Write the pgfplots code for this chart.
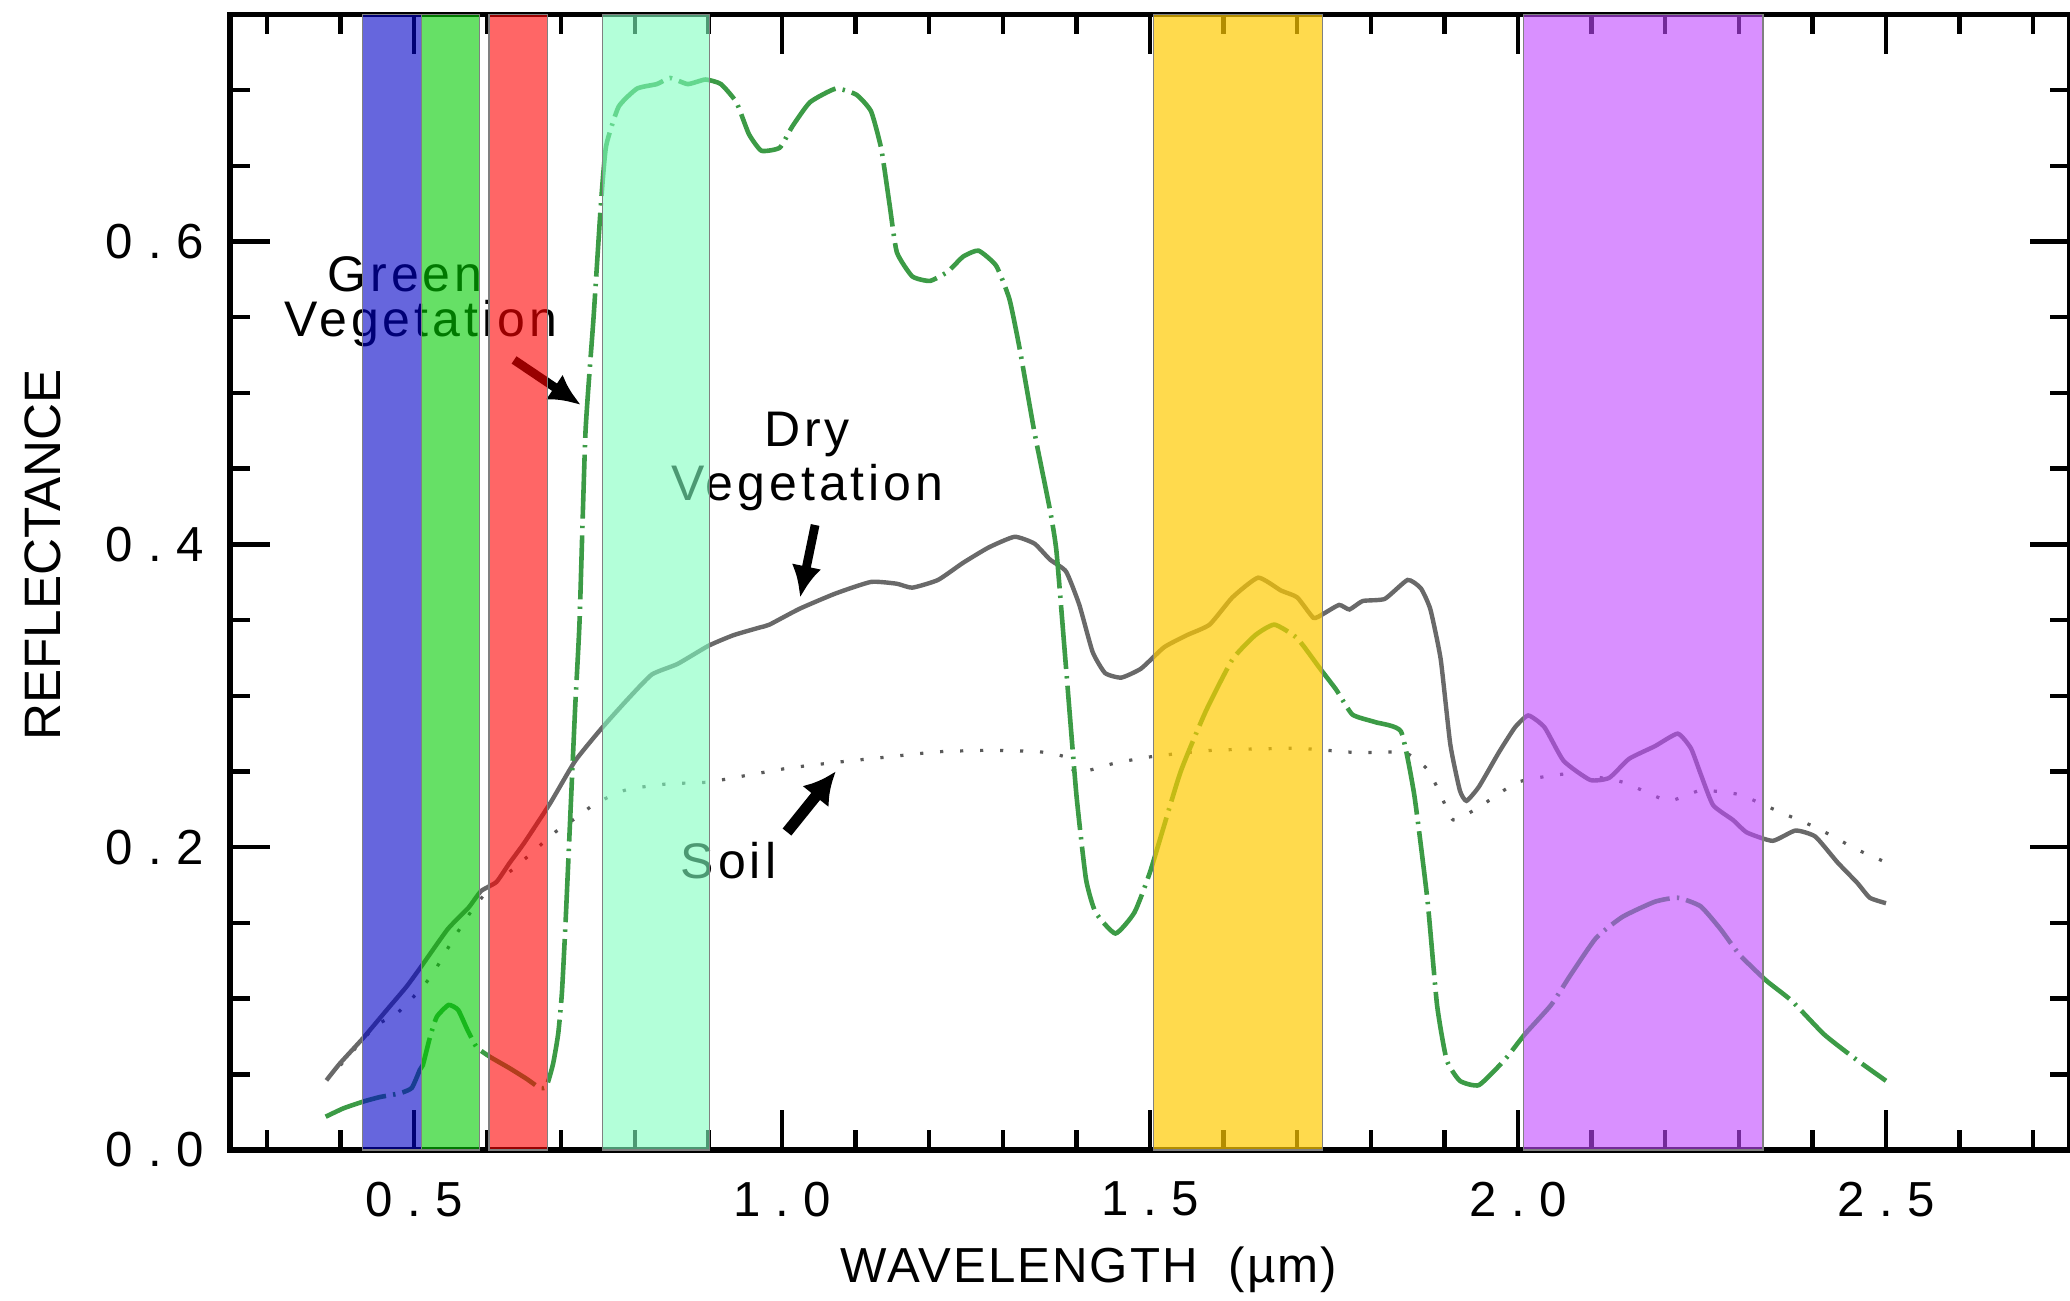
\documentclass[border=0pt]{standalone}
\usepackage{fontspec}
\setmainfont{Liberation Sans}
\newfontfamily\tickfont[LetterSpace=30]{Liberation Sans}
\newfontfamily\annfont[LetterSpace=8]{Liberation Sans}
\newfontfamily\labfont[LetterSpace=4]{Liberation Sans}
\usepackage{pgfplots}
\pgfplotsset{compat=1.18}
\usetikzlibrary{arrows.meta}
\definecolor{gveg}{RGB}{60,155,70}
\definecolor{dveg}{RGB}{105,105,105}
\definecolor{soilc}{RGB}{90,90,90}
\definecolor{bblue}{RGB}{0,0,198}
\definecolor{bgreen}{RGB}{0,203,0}
\definecolor{bred}{RGB}{255,0,0}
\definecolor{bmint}{RGB}{128,255,192}
\definecolor{byellow}{RGB}{255,202,1}
\definecolor{bpurple}{RGB}{192,70,255}

\pgfplotstableread{
x y
0.380 0.022
0.404 0.0275
0.431 0.032
0.454 0.035
0.481 0.0375
0.497 0.041
0.508 0.053
0.512 0.056
0.522 0.075
0.531 0.088
0.547 0.0958
0.560 0.0925
0.572 0.080
0.585 0.068
0.603 0.0616
0.630 0.054
0.653 0.047
0.671 0.041
0.680 0.042
0.689 0.057
0.696 0.077
0.701 0.104
0.706 0.151
0.7125 0.222
0.719 0.2925
0.725 0.350
0.733 0.474
0.744 0.550
0.754 0.625
0.761 0.663
0.778 0.689
0.803 0.701
0.830 0.704
0.848 0.708
0.872 0.704
0.896 0.707
0.917 0.704
0.938 0.692
0.955 0.671
0.972 0.660
0.997 0.662
1.014 0.676
1.038 0.692
1.073 0.701
1.101 0.697
1.121 0.686
1.135 0.661
1.146 0.625
1.156 0.593
1.177 0.577
1.201 0.574
1.225 0.580
1.246 0.590
1.267 0.594
1.291 0.584
1.309 0.562
1.323 0.529
1.343 0.474
1.364 0.423
1.373 0.395
1.386 0.318
1.400 0.2347
1.413 0.179
1.426 0.157
1.453 0.143
1.479 0.157
1.501 0.185
1.541 0.249
1.576 0.290
1.612 0.324
1.643 0.340
1.669 0.347
1.700 0.338
1.731 0.318
1.753 0.304
1.775 0.2876
1.806 0.2826
1.841 0.2764
1.859 0.2347
1.877 0.165
1.890 0.0958
1.903 0.0596
1.921 0.0457
1.947 0.0429
1.982 0.0596
2.009 0.0763
2.045 0.0958
2.071 0.1153
2.106 0.140
2.142 0.154
2.186 0.164
2.217 0.1666
2.248 0.161
2.275 0.146
2.301 0.129
2.337 0.112
2.372 0.0985
2.416 0.0763
2.460 0.0596
2.500 0.0457
}\greenveg

\pgfplotstableread{
x y
0.381 0.046
0.399 0.057
0.431 0.074
0.463 0.0925
0.490 0.108
0.511 0.122
0.546 0.146
0.574 0.160
0.591 0.171
0.612 0.177
0.629 0.189
0.650 0.203
0.685 0.229
0.719 0.257
0.754 0.278
0.789 0.297
0.823 0.314
0.858 0.321
0.900 0.333
0.934 0.340
0.969 0.345
0.983 0.347
1.024 0.3575
1.073 0.3676
1.121 0.3752
1.156 0.374
1.177 0.3714
1.212 0.3765
1.246 0.3878
1.281 0.398
1.316 0.405
1.343 0.4005
1.364 0.390
1.386 0.382
1.404 0.360
1.422 0.329
1.439 0.315
1.461 0.312
1.488 0.318
1.519 0.332
1.550 0.340
1.581 0.347
1.612 0.365
1.647 0.378
1.678 0.3695
1.700 0.365
1.722 0.3515
1.735 0.354
1.757 0.360
1.771 0.357
1.789 0.3626
1.819 0.364
1.850 0.3765
1.868 0.371
1.881 0.357
1.895 0.324
1.908 0.268
1.921 0.2375
1.930 0.2306
1.947 0.240
1.974 0.2626
1.996 0.2792
2.014 0.287
2.036 0.2792
2.062 0.257
2.098 0.2444
2.124 0.2458
2.151 0.2584
2.186 0.2667
2.217 0.275
2.235 0.2653
2.248 0.2486
2.265 0.2278
2.292 0.218
2.311 0.2097
2.346 0.2042
2.377 0.211
2.404 0.207
2.434 0.190
2.461 0.1764
2.478 0.1666
2.500 0.163
}\dryveg

\pgfplotstableread{
x y
0.400 0.056
0.431 0.073
0.449 0.0826
0.4765 0.090
0.508 0.1057
0.526 0.1167
0.553 0.139
0.581 0.160
0.609 0.176
0.636 0.186
0.664 0.198
0.692 0.210
0.719 0.219
0.747 0.229
0.789 0.238
0.844 0.2418
0.900 0.243
0.955 0.2477
1.011 0.2524
1.073 0.256
1.142 0.2595
1.212 0.263
1.281 0.264
1.350 0.263
1.385 0.2595
1.400 0.249
1.453 0.2556
1.505 0.260
1.585 0.264
1.700 0.2653
1.780 0.2625
1.846 0.2625
1.877 0.2514
1.895 0.2347
1.912 0.218
1.947 0.2264
2.000 0.243
2.071 0.2486
2.142 0.243
2.204 0.2306
2.248 0.2375
2.301 0.2347
2.354 0.2236
2.407 0.2125
2.460 0.1986
2.500 0.190
}\soil

\begin{document}
\begin{tikzpicture}
\useasboundingbox (0,0) rectangle (517.5pt,325pt);
\begin{axis}[
  at={(57.5pt,37.5pt)}, anchor=south west,
  scale only axis, width=460pt, height=283.9pt,
  xmin=0.25, xmax=2.75, ymin=0, ymax=0.75,
  xtick={0.5,1,1.5,2,2.5},
  minor xtick={0.3,0.4,...,2.71},
  ytick={0,0.2,0.4,0.6},
  minor ytick={0.05,0.1,...,0.71},
  xtick pos=both, ytick pos=both,
  xticklabel pos=lower, yticklabel pos=left,
  tick align=inside,
  major tick length=10pt, minor tick length=5pt,
  axis line style={line width=1.3pt},
  tick style={black, line width=1.1pt},
  tick label style={font=\fontsize{12.3}{14}\tickfont},
  xticklabel style={yshift=-4.5pt},
  yticklabel style={xshift=-3pt},
  /pgf/number format/fixed,
  /pgf/number format/fixed zerofill,
  /pgf/number format/precision=1,
  /pgf/number format/assume math mode=true,
  xlabel={WAVELENGTH\ \ (µm)},
  ylabel={REFLECTANCE},
  xlabel style={at={(axis description cs:0.4668,-0.1058)}, anchor=center, font=\fontsize{12.3}{14}\labfont},
  ylabel style={at={(axis description cs:-0.1019,0.524)}, anchor=center, font=\fontsize{12.8}{14}\selectfont},
  no markers,
]
\addplot[soilc, line width=0.8pt, dash pattern=on 0.8pt off 4.2pt, smooth, tension=0.3] table {\soil};
\addplot[dveg, line width=1.1pt, smooth, tension=0.3] table {\dryveg};
\addplot[gveg, line width=1.15pt, dash pattern=on 16pt off 1.8pt on 0.6pt off 1.8pt, smooth, tension=0.3] table {\greenveg};

\node[anchor=base, font=\fontsize{12.5}{14}\annfont] at (axis cs:0.4878,0.567) {Green};
\node[anchor=base, font=\fontsize{12.5}{14}\annfont] at (axis cs:0.5095,0.537) {Vegetation};
\node[anchor=base, font=\fontsize{12.5}{14}\annfont] at (axis cs:1.034,0.4645) {Dry};
\node[anchor=base, font=\fontsize{12.5}{14}\annfont] at (axis cs:1.0346,0.4293) {Vegetation};
\node[anchor=base, font=\fontsize{12.5}{14}\annfont] at (axis cs:0.9274,0.179) {Soil};
\draw[black, line width=2.2pt, -{Latex[length=8pt,width=7.5pt]}] (axis cs:0.636,0.5218) -- (axis cs:0.727,0.492);
\draw[black, line width=2.2pt, -{Latex[length=8pt,width=7.5pt]}] (axis cs:1.045,0.4128) -- (axis cs:1.0245,0.3646);
\draw[black, line width=2.8pt, -{Latex[length=8pt,width=8.5pt]}] (axis cs:1.0068,0.210) -- (axis cs:1.073,0.250);

\addplot[draw=gray, line width=0.3pt, fill=bblue, fill opacity=0.6] coordinates {(0.430,0.75) (0.510,0.75)} \closedcycle;
\addplot[draw=gray, line width=0.3pt, fill=bgreen, fill opacity=0.6] coordinates {(0.510,0.75) (0.589,0.75)} \closedcycle;
\addplot[draw=gray, line width=0.3pt, fill=bred, fill opacity=0.6] coordinates {(0.602,0.75) (0.681,0.75)} \closedcycle;
\addplot[draw=gray, line width=0.3pt, fill=bmint, fill opacity=0.6] coordinates {(0.756,0.75) (0.901,0.75)} \closedcycle;
\addplot[draw=gray, line width=0.3pt, fill=byellow, fill opacity=0.7] coordinates {(1.505,0.75) (1.734,0.75)} \closedcycle;
\addplot[draw=gray, line width=0.3pt, fill=bpurple, fill opacity=0.6] coordinates {(2.007,0.75) (2.333,0.75)} \closedcycle;
\end{axis}
\end{tikzpicture}
\end{document}
